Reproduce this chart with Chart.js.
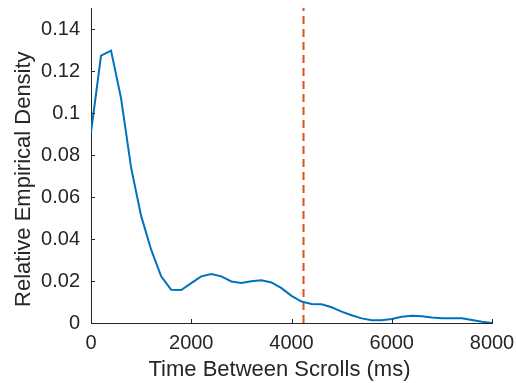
<!DOCTYPE html>
<html>
<head>
<meta charset="utf-8">
<script src="https://cdn.jsdelivr.net/npm/chart.js@4/dist/chart.umd.min.js"></script>
<style>
  html, body { margin: 0; padding: 0; background: #fff; }
  #wrap { width: 516px; height: 383px; }
</style>
</head>
<body>
<div id="wrap"><canvas id="c"></canvas></div>
<script>
// time between scrolls (ms), sampled every 200 ms
const times = [0, 200, 400, 600, 800, 1000, 1200, 1400, 1600, 1800, 2000, 2200, 2400, 2600, 2800, 3000,
  3200, 3400, 3600, 3800, 4000, 4200, 4400, 4600, 4800, 5000, 5200, 5400, 5600, 5800, 6000,
  6200, 6400, 6600, 6800, 7000, 7200, 7400, 7600, 7800, 8000];
const density = [0.0908, 0.1273, 0.1297, 0.107, 0.074, 0.051, 0.0349, 0.0222, 0.0158, 0.0157, 0.019,
  0.0222, 0.0233, 0.0222, 0.0198, 0.0191, 0.0199, 0.0203, 0.0193, 0.0166, 0.0129,
  0.0102, 0.0091, 0.0089, 0.0075, 0.0054, 0.0037, 0.0022, 0.0013, 0.0013, 0.0019,
  0.003, 0.0035, 0.0032, 0.0026, 0.0023, 0.0023, 0.0023, 0.0014, 0.0006, 0.0];
const thresholdX = 4240;
const yTicks = [0, 0.02, 0.04, 0.06, 0.08, 0.1, 0.12, 0.14];
const xTicks = [0, 2000, 4000, 6000, 8000];
const xLabel = 'Time Between Scrolls (ms)';
const yLabel = 'Relative Empirical Density';

const axisColor = '#262626';
const fontFamily = '"Liberation Sans", Arial, Helvetica, sans-serif';

// MATLAB style: ticks inside the axes, labels placed like the original figure
const matlabAxes = {
    id: 'matlabAxes',
    afterDraw(chart) {
        const { ctx, chartArea, scales } = chart;
        ctx.save();
        ctx.strokeStyle = axisColor;
        ctx.lineWidth = 1;
        ctx.beginPath();
        xTicks.forEach(v => {
            const px = Math.round(scales.x.getPixelForValue(v)) + 0.5;
            ctx.moveTo(px, chartArea.bottom);
            ctx.lineTo(px, chartArea.bottom - 4);
        });
        yTicks.forEach(v => {
            const py = Math.round(scales.y.getPixelForValue(v)) + 0.5;
            ctx.moveTo(chartArea.left, py);
            ctx.lineTo(chartArea.left + 4, py);
        });
        ctx.stroke();

        ctx.fillStyle = axisColor;
        ctx.font = `22px ${fontFamily}`;
        ctx.textAlign = 'center';
        ctx.textBaseline = 'alphabetic';
        ctx.fillText(xLabel, scales.x.getPixelForValue(3760), chartArea.bottom + 53);
        ctx.translate(chartArea.left - 61, scales.y.getPixelForValue(0.0685));
        ctx.rotate(-Math.PI / 2);
        ctx.fillText(yLabel, 0, 0);
        ctx.restore();
    }
};

new Chart(document.getElementById('c'), {
    type: 'line',
    data: {
        datasets: [{
            data: times.map((t, i) => ({ x: t, y: density[i] })),
            borderColor: '#0072BD',
            borderWidth: 2,
            pointRadius: 0,
            tension: 0
        }, {
            data: [{ x: thresholdX, y: 0 }, { x: thresholdX, y: 0.15 }],
            borderColor: '#D95319',
            borderWidth: 2,
            borderDash: [8, 5],
            pointRadius: 0
        }]
    },
    plugins: [matlabAxes],
    options: {
        responsive: true,
        maintainAspectRatio: false,
        animation: false,
        layout: { padding: { top: 8, right: 24, left: 0, bottom: 0 } },
        plugins: { legend: { display: false }, tooltip: { enabled: false } },
        scales: {
            x: {
                type: 'linear',
                min: 0, max: 8000,
                afterFit: s => { s.height = 60; s.paddingLeft = 0; s.paddingRight = 0; },
                afterBuildTicks: s => { s.ticks = xTicks.map(v => ({ value: v })); },
                grid: { display: false, drawTicks: false },
                border: { display: true, color: axisColor, width: 1 },
                ticks: { color: axisColor, font: { family: fontFamily, size: 20 }, padding: 8, maxRotation: 0,
                    callback: v => String(v) }
            },
            y: {
                min: 0, max: 0.15,
                afterFit: s => { s.width = 91; s.paddingTop = 0; s.paddingBottom = 0; },
                afterBuildTicks: s => { s.ticks = yTicks.map(v => ({ value: v })); },
                grid: { display: false, drawTicks: false },
                border: { display: true, color: axisColor, width: 1 },
                ticks: { color: axisColor, font: { family: fontFamily, size: 20 }, padding: 11,
                    callback: v => String(+v.toFixed(2)) }
            }
        }
    }
});
</script>
</body>
</html>
